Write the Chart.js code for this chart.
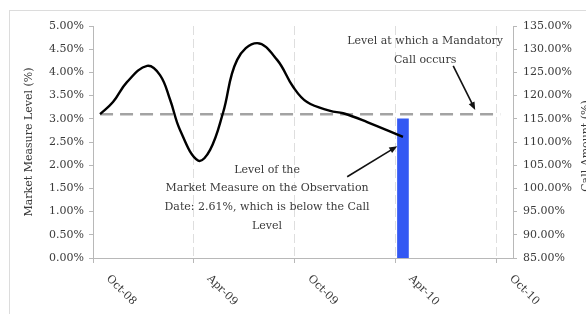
<!DOCTYPE html>
<html><head><meta charset="utf-8">
<script src="https://cdn.jsdelivr.net/npm/chart.js@4"></script>
<style>
html,body{margin:0;padding:0;background:#fff;overflow:hidden;}
#wrap{position:relative;width:586px;height:314px;overflow:hidden;}
#frame{position:absolute;left:9px;top:10px;width:700px;height:400px;border:1px solid #dcdcdc;}
canvas{position:absolute;left:0;top:0;}
</style></head><body>
<div id="wrap"><div id="frame"></div><canvas id="c" width="586" height="314"></canvas></div>
<script>
// x values are months after Oct-08
const tickMonths = [0, 6, 12, 18, 24];
const tickLabels = ['Oct-08', 'Apr-09', 'Oct-09', 'Apr-10', 'Oct-10'];
const measureMonths = [0.42, 1.19, 2.02, 3.22, 3.99, 4.59, 5.18, 6.25, 6.97, 7.74, 8.58, 9.77, 10.96, 11.91, 12.74, 14.12, 14.89, 16.32, 18.45];
const measureLevels = [3.10, 3.36, 3.79, 4.14, 3.94, 3.41, 2.76, 2.10, 2.33, 3.13, 4.27, 4.63, 4.27, 3.69, 3.36, 3.17, 3.12, 2.93, 2.61];
const callLineMonths = [0.42, 24.24];
const callLevel = 3.10;
const observationMonths = [18.45];
const callAmounts = [115];
const leftTicks = {min: 0, max: 5, step: 0.5};
const rightTicks = {min: 85, max: 135, step: 5};
const noteCall = {text: ['Level at which a Mandatory', 'Call occurs'], m: 19.77, v: 4.68, arrowFrom: [21.44, 4.14], arrowTo: [22.75, 3.19]};
const noteObs = {text: ['Level of the', 'Market Measure on the Observation', 'Date: 2.61%, which is below the Call', 'Level'], m: 10.36, v: 1.90, arrowFrom: [15.13, 1.75], arrowTo: [18.11, 2.41]};
const leftTitle = 'Market Measure Level (%)';
const rightTitle = 'Call Amount (%)';

const FONT = '"DejaVu Serif", "Liberation Serif", serif';
const TXT = '#3a3a3a';
const AXIS = '#b8b8b8';

function arrow(ctx, x1, y1, x2, y2) {
  const a = Math.atan2(y2 - y1, x2 - x1);
  const L = 8, W = 3.2;
  ctx.beginPath();
  ctx.moveTo(x1, y1);
  ctx.lineTo(x2 - Math.cos(a) * (L - 1), y2 - Math.sin(a) * (L - 1));
  ctx.stroke();
  ctx.beginPath();
  ctx.moveTo(x2, y2);
  ctx.lineTo(x2 - Math.cos(a) * L - Math.sin(a) * W, y2 - Math.sin(a) * L + Math.cos(a) * W);
  ctx.lineTo(x2 - Math.cos(a) * L + Math.sin(a) * W, y2 - Math.sin(a) * L - Math.cos(a) * W);
  ctx.closePath();
  ctx.fill();
}

const overlay = {
  id: 'overlay',
  afterDraw(chart) {
    const {ctx, chartArea, scales: {x, y}} = chart;
    ctx.save();
    ctx.font = '11px ' + FONT;
    ctx.fillStyle = TXT;
    // rotated x tick labels
    tickMonths.forEach((m, i) => {
      const px = x.getPixelForValue(m);
      ctx.save();
      ctx.translate(px + 15, y.bottom + 19);
      ctx.rotate(Math.PI / 4);
      ctx.textAlign = 'left';
      ctx.textBaseline = 'middle';
      ctx.fillText(tickLabels[i], 0, 0);
      ctx.restore();
    });
    // right axis title (reads bottom to top)
    ctx.save();
    ctx.translate(586, (chartArea.top + chartArea.bottom) / 2 + 4);
    ctx.rotate(-Math.PI / 2);
    ctx.textAlign = 'center';
    ctx.textBaseline = 'middle';
    ctx.fillText(rightTitle, 0, 0);
    ctx.restore();
    // annotations
    ctx.textAlign = 'center';
    ctx.textBaseline = 'middle';
    [noteCall, noteObs].forEach((n, k) => {
      const cx = x.getPixelForValue(n.m);
      const cy = y.getPixelForValue(n.v);
      const gap = k === 0 ? 19 : 18.7;
      n.text.forEach((t, i) => ctx.fillText(t, cx, cy + i * gap));
      ctx.strokeStyle = '#111';
      ctx.fillStyle = '#111';
      ctx.lineWidth = 1.6;
      arrow(ctx, x.getPixelForValue(n.arrowFrom[0]), y.getPixelForValue(n.arrowFrom[1]),
                 x.getPixelForValue(n.arrowTo[0]), y.getPixelForValue(n.arrowTo[1]));
      ctx.fillStyle = TXT;
    });
    ctx.restore();
  }
};

new Chart(document.getElementById('c'), {
  data: {
    datasets: [
      {
        type: 'line',
        data: measureMonths.map((m, i) => ({x: m, y: measureLevels[i]})),
        yAxisID: 'y',
        borderColor: '#000',
        borderWidth: 2.4,
        pointRadius: 0,
        tension: 0.4,
        fill: false,
        order: 0
      },
      {
        type: 'line',
        data: callLineMonths.map(m => ({x: m, y: callLevel})),
        yAxisID: 'y',
        borderColor: '#a3a3a3',
        borderWidth: 2.5,
        borderDash: [13, 7],
        pointRadius: 0,
        fill: false,
        order: 1
      },
      {
        type: 'bar',
        data: observationMonths.map((m, i) => ({x: m, y: callAmounts[i]})),
        yAxisID: 'y2',
        backgroundColor: '#3358f3',
        barThickness: 11,
        order: 2
      }
    ]
  },
  options: {
    responsive: false,
    animation: false,
    layout: {padding: {top: 26, left: 9, right: 0, bottom: 0}},
    plugins: {legend: {display: false}, tooltip: {enabled: false}},
    scales: {
      x: {
        type: 'linear',
        offset: false,
        min: 0, max: 25,
        afterBuildTicks: s => { s.ticks = tickMonths.map(v => ({value: v})); },
        afterFit: s => { s.height = 56; },
        ticks: {display: false},
        grid: {offset: false, color: '#dedede', lineWidth: 1, drawTicks: true, tickLength: 5, tickColor: AXIS},
        border: {display: true, color: AXIS, dash: [9, 4]}
      },
      y: {
        type: 'linear',
        position: 'left',
        min: leftTicks.min, max: leftTicks.max,
        ticks: {stepSize: leftTicks.step, padding: 5, color: TXT, font: {family: FONT, size: 11},
                callback: v => v.toFixed(2) + '%'},
        afterFit: s => { s.width = 84; },
        grid: {drawOnChartArea: false, drawTicks: true, tickLength: 4, tickColor: AXIS},
        border: {display: true, color: AXIS},
        title: {display: true, text: leftTitle, color: TXT, font: {family: FONT, size: 11}, padding: {top: 14, bottom: 0}}
      },
      y2: {
        type: 'linear',
        position: 'right',
        min: rightTicks.min, max: rightTicks.max,
        ticks: {stepSize: rightTicks.step, padding: 6, color: TXT, font: {family: FONT, size: 11},
                callback: v => v.toFixed(2) + '%'},
        afterFit: s => { s.width = 73; },
        grid: {drawOnChartArea: false, drawTicks: true, tickLength: 4, tickColor: AXIS},
        border: {display: true, color: AXIS}
      }
    }
  },
  plugins: [overlay]
});
</script>
</body></html>
